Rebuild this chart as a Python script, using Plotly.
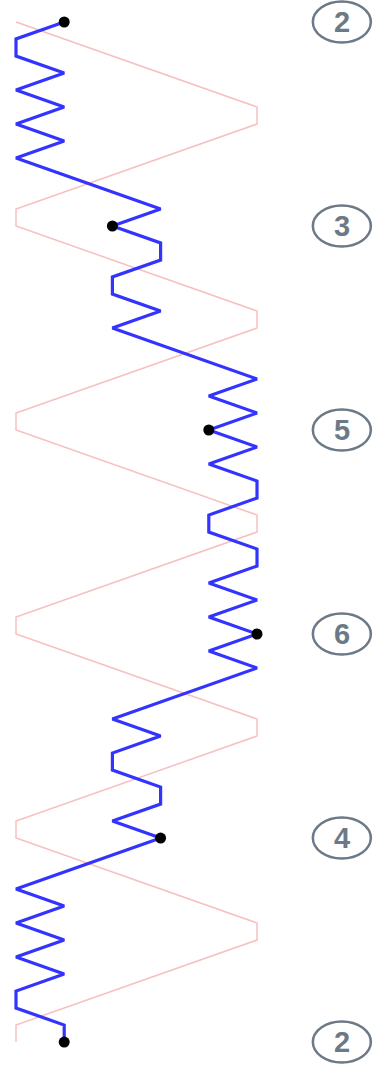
import plotly.graph_objects as go

# ── DATA ───────────────────────────────────────
# one row per step, levels 1..6
steps = list(range(61))

walk = [2, 1, 1, 2, 1, 2, 1, 2, 1, 2, 3, 4,
        3, 4, 4, 3, 3, 4, 3, 4, 5, 6, 5, 6,
        5, 6, 5, 6, 6, 5, 5, 6, 6, 5, 6, 5,
        6, 5, 6, 5, 4, 3, 4, 3, 3, 4, 4, 3,
        4, 3, 2, 1, 2, 1, 2, 1, 2, 1, 1, 2,
        2]

sweep = [1, 2, 3, 4, 5, 6, 6, 5, 4, 3, 2, 1,
         1, 2, 3, 4, 5, 6, 6, 5, 4, 3, 2, 1,
         1, 2, 3, 4, 5, 6, 6, 5, 4, 3, 2, 1,
         1, 2, 3, 4, 5, 6, 6, 5, 4, 3, 2, 1,
         1, 2, 3, 4, 5, 6, 6, 5, 4, 3, 2, 1,
         1]

check_steps = [0, 12, 24, 36, 48, 60]
check_values = [2, 3, 5, 6, 4, 2]

# ── FIGURE ─────────────────────────────────────
fig = go.Figure()

fig.add_trace(go.Scatter(
    x=sweep, y=steps, mode='lines',
    line=dict(color='rgba(240,128,128,0.5)', width=1.5),
    hoverinfo='skip'
))

fig.add_trace(go.Scatter(
    x=walk, y=steps, mode='lines',
    line=dict(color='#3333ff', width=3.2),
    hoverinfo='skip'
))

fig.add_trace(go.Scatter(
    x=check_values, y=check_steps, mode='markers',
    marker=dict(color='black', size=11),
    cliponaxis=False,
    hoverinfo='skip'
))

# circled labels in a column on the right
label_x = 7.76
for s, v in zip(check_steps, check_values):
    fig.add_shape(type='circle', xref='x', yref='y',
                  xsizemode='pixel', ysizemode='pixel',
                  xanchor=label_x, yanchor=s,
                  x0=-29, x1=29, y0=-20.5, y1=20.5,
                  line=dict(color='#6c7986', width=2.5))
    fig.add_annotation(x=label_x, y=s, text=f'<b>{v}</b>',
                       showarrow=False, xref='x', yref='y',
                       font=dict(size=29, color='#6c7986', family='Liberation Sans'))

fig.update_layout(
    width=375, height=1075,
    margin=dict(l=0, r=0, t=0, b=0),
    paper_bgcolor='white', plot_bgcolor='white',
    showlegend=False,
    xaxis=dict(range=[0.668, 8.448], visible=False, fixedrange=True),
    yaxis=dict(range=[61.94, -1.294], visible=False, fixedrange=True),
)

# page has a default 8px body margin; drop it so the figure fills the window
fig.write_html("out.html", config={'displayModeBar': False},
               post_script="document.body.style.margin='0';")
